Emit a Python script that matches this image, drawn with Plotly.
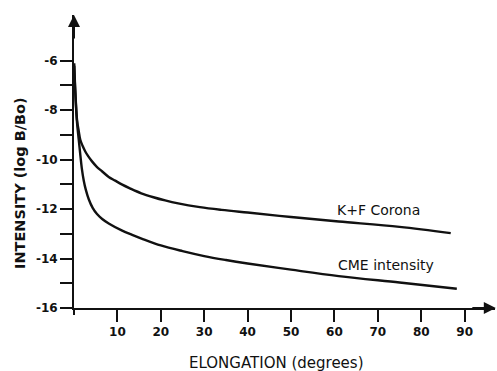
import plotly.graph_objects as go

# Elongation (degrees) and log intensity for the two brightness curves
kf_elong = [0.05, 0.3, 0.7, 1.1, 1.45, 2.0, 2.6, 3.3, 4.15, 5.2, 6.45, 8, 9.5, 11, 13, 15.5,
            18.3, 21, 24, 29, 34, 40, 50, 61, 75, 86.8]
kf_logb = [-6.1, -7.2, -8.4, -8.85, -9.2, -9.45, -9.67, -9.87, -10.07, -10.28, -10.47, -10.7,
           -10.85, -11.0, -11.17, -11.36, -11.52, -11.65, -11.77, -11.92, -12.03, -12.14,
           -12.32, -12.5, -12.72, -12.97]

cme_elong = [0.05, 0.3, 0.7, 1.1, 1.45, 1.8, 2.25, 2.7, 3.4, 4.3, 5.3, 6.5, 8, 11.1, 13.4, 16,
             20, 25, 30, 35, 40, 50, 61, 75, 88.2]
cme_logb = [-6.2, -7.3, -8.5, -9.2, -9.8, -10.35, -10.85, -11.2, -11.6, -11.95, -12.2, -12.4,
            -12.58, -12.87, -13.04, -13.22, -13.47, -13.7, -13.9, -14.06, -14.2, -14.45,
            -14.71, -14.97, -15.22]

x_ticks = [10, 20, 30, 40, 50, 60, 70, 80, 90]
y_major = [-16, -14, -12, -10, -8, -6]
y_minor = [-15, -13, -11, -9, -7]

curve_labels = ["K+F Corona", "CME intensity"]

INK = "#111111"
FONT = "DejaVu Sans"

fig = go.Figure()
fig.add_trace(go.Scatter(x=kf_elong, y=kf_logb, mode="lines",
                         line=dict(color=INK, width=2.4, shape="spline", smoothing=1.0),
                         name=curve_labels[0]))
fig.add_trace(go.Scatter(x=cme_elong, y=cme_logb, mode="lines",
                         line=dict(color=INK, width=2.4, shape="spline", smoothing=1.0),
                         name=curve_labels[1]))

fig.update_layout(
    width=497, height=371,
    margin=dict(l=74, r=2, t=15, b=63),
    paper_bgcolor="white", plot_bgcolor="white",
    showlegend=False,
    font=dict(family=FONT, color=INK),
)

fig.update_xaxes(
    range=[0, 97], showgrid=False, zeroline=False,
    showline=True, linecolor=INK, linewidth=2,
    tickmode="array", tickvals=x_ticks, ticktext=[str(v) for v in x_ticks],
    ticks="outside", ticklen=12, tickwidth=2, tickcolor=INK,
    tickfont=dict(family=FONT, size=12, color=INK, weight="bold"),
)
fig.update_yaxes(
    range=[-16, -4.15], showgrid=False, zeroline=False,
    showline=True, linecolor=INK, linewidth=2,
    tickmode="array", tickvals=y_major, ticktext=[str(v) for v in y_major],
    ticks="outside", ticklen=12, tickwidth=2, tickcolor=INK,
    tickfont=dict(family=FONT, size=12, color=INK, weight="bold"),
    minor=dict(tickmode="array", tickvals=y_minor, ticks="outside",
               ticklen=12, tickwidth=2, tickcolor=INK),
)

# small overhangs where the two axes cross
fig.add_shape(type="line", xref="paper", yref="paper", x0=0, x1=0, y0=0, y1=-0.024,
              line=dict(color=INK, width=2))
fig.add_shape(type="line", xref="paper", yref="paper", x0=-0.015, x1=0, y0=0, y1=0,
              line=dict(color=INK, width=2))

# arrowheads at the ends of the axes
fig.add_annotation(xref="paper", yref="paper", x=0, y=1.0, ax=0, ay=25,
                   showarrow=True, arrowhead=2, arrowsize=1.2, arrowwidth=2,
                   arrowcolor=INK, text="")
fig.add_annotation(xref="paper", yref="paper", x=1.002, y=0, ax=-25, ay=0,
                   showarrow=True, arrowhead=2, arrowsize=1.2, arrowwidth=2,
                   arrowcolor=INK, text="")

# axis titles
fig.add_annotation(xref="paper", yref="paper", x=0.482, y=-0.188,
                   text="ELONGATION (degrees)", showarrow=False,
                   font=dict(family=FONT, size=15, color=INK),
                   xanchor="center", yanchor="middle")
fig.add_annotation(xref="paper", yref="paper", x=-0.127, y=0.425,
                   text="INTENSITY (log B/Bo)", showarrow=False, textangle=-90,
                   font=dict(family=FONT, size=14.5, color=INK, weight="bold"),
                   xanchor="center", yanchor="middle")

# curve labels
fig.add_annotation(x=60.1, y=-12.02, text=curve_labels[0], showarrow=False,
                   xanchor="left", yanchor="middle",
                   font=dict(family=FONT, size=14, color=INK))
fig.add_annotation(x=60.3, y=-14.25, text=curve_labels[1], showarrow=False,
                   xanchor="left", yanchor="middle",
                   font=dict(family=FONT, size=14, color=INK))

fig.write_html("out.html")
